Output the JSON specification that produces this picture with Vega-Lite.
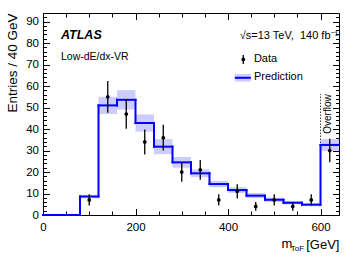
{
  "$schema": "https://vega.github.io/schema/vega-lite/v6.json",
  "width": 296,
  "height": 202,
  "autosize": "none",
  "padding": {"left": 43, "top": 13, "right": 18, "bottom": 47},
  "config": {
    "font": "Liberation Sans",
    "view": {"stroke": "black", "strokeWidth": 1},
    "axis": {"domain": false, "grid": false, "tickColor": "black", "labelColor": "black", "titleColor": "black", "labelFont": "Liberation Sans", "titleFont": "Liberation Sans", "titleFontWeight": "normal", "labelFontSize": 11.5, "titleFontSize": 13, "tickWidth": 1, "labelOverlap": false, "labelFlush": false},
    "text": {"font": "Liberation Sans", "color": "black"}
  },
  "datasets": {
    "pred": [
      {"lo": 0, "hi": 40, "pred": 0, "down": 0, "up": 0},
      {"lo": 40, "hi": 80, "pred": 0, "down": 0, "up": 0},
      {"lo": 80, "hi": 120, "pred": 8.6, "down": 7.8, "up": 9.4},
      {"lo": 120, "hi": 160, "pred": 51, "down": 47, "up": 55},
      {"lo": 160, "hi": 200, "pred": 53.6, "down": 49.1, "up": 58.1},
      {"lo": 200, "hi": 240, "pred": 42.8, "down": 38.8, "up": 46.8},
      {"lo": 240, "hi": 280, "pred": 31.8, "down": 28.3, "up": 35.3},
      {"lo": 280, "hi": 320, "pred": 24.5, "down": 22, "up": 27},
      {"lo": 320, "hi": 360, "pred": 19.4, "down": 17.6, "up": 21.2},
      {"lo": 360, "hi": 400, "pred": 14.4, "down": 12.9, "up": 15.9},
      {"lo": 400, "hi": 440, "pred": 11.6, "down": 10.3, "up": 12.9},
      {"lo": 440, "hi": 480, "pred": 9.0, "down": 7.8, "up": 10.2},
      {"lo": 480, "hi": 520, "pred": 7.1, "down": 6.1, "up": 8.1},
      {"lo": 520, "hi": 560, "pred": 5.7, "down": 4.9, "up": 6.5},
      {"lo": 560, "hi": 600, "pred": 4.8, "down": 4.1, "up": 5.5},
      {"lo": 600, "hi": 640, "pred": 32.6, "down": 29.9, "up": 35.3}
    ],
    "obs": [
      {"m": 100, "n": 7, "lo": 4.4, "hi": 9.6},
      {"m": 140, "n": 55, "lo": 47.6, "hi": 62.4},
      {"m": 180, "n": 47, "lo": 40.1, "hi": 53.9},
      {"m": 220, "n": 34, "lo": 28.2, "hi": 39.8},
      {"m": 260, "n": 36, "lo": 30, "hi": 42},
      {"m": 300, "n": 20, "lo": 15.5, "hi": 24.5},
      {"m": 340, "n": 21, "lo": 16.4, "hi": 25.6},
      {"m": 380, "n": 7, "lo": 4.4, "hi": 9.6},
      {"m": 420, "n": 11, "lo": 7.7, "hi": 14.3},
      {"m": 460, "n": 4, "lo": 2, "hi": 6},
      {"m": 500, "n": 7, "lo": 4.4, "hi": 9.6},
      {"m": 540, "n": 4, "lo": 2, "hi": 6},
      {"m": 580, "n": 7, "lo": 4.4, "hi": 9.6},
      {"m": 620, "n": 30, "lo": 24.5, "hi": 35.5}
    ]
  },
  "layer": [
    {
      "data": {"name": "pred"},
      "mark": {"type": "rect", "fill": "#ccccff", "strokeWidth": 0},
      "encoding": {
        "x": {"field": "lo", "type": "quantitative", "scale": {"domain": [0, 640], "nice": false, "zero": false},
          "axis": {"orient": "bottom", "values": [0, 50, 100, 150, 200, 250, 300, 350, 400, 450, 500, 550, 600],
            "tickSize": {"condition": {"test": "datum.value % 200 === 0", "value": -6.5}, "value": -4},
            "labelExpr": "datum.value % 200 === 0 ? datum.label : ''",
            "labelPadding": 12.5,
            "title": "[GeV]",
            "titleAnchor": "end", "titleAlign": "right", "titleX": 296, "titleY": 33, "titleBaseline": "alphabetic"}},
        "x2": {"field": "hi"},
        "y": {"field": "down", "type": "quantitative", "scale": {"domain": [0, 94], "nice": false},
          "axis": {"orient": "left", "values": [0, 2, 4, 6, 8, 10, 12, 14, 16, 18, 20, 22, 24, 26, 28, 30, 32, 34, 36, 38, 40, 42, 44, 46, 48, 50, 52, 54, 56, 58, 60, 62, 64, 66, 68, 70, 72, 74, 76, 78, 80, 82, 84, 86, 88, 90, 92],
            "tickSize": {"condition": {"test": "datum.value % 10 === 0", "value": -6.5}, "value": -3.5},
            "labelExpr": "datum.value % 10 === 0 ? datum.label : ''",
            "labelPadding": 11,
            "title": "Entries / 40 GeV",
            "titleFontSize": 13.5,
            "titleAngle": 270, "titleAlign": "right", "titleBaseline": "middle", "titleX": -31, "titleY": 0}},
        "y2": {"field": "up"}
      }
    },
    {
      "data": {"name": "pred"},
      "mark": {"type": "rule", "color": "#0000ff", "strokeWidth": 2, "strokeCap": "square"},
      "encoding": {
        "x": {"field": "lo", "type": "quantitative",
          "axis": {"orient": "top", "values": [0, 50, 100, 150, 200, 250, 300, 350, 400, 450, 500, 550, 600],
            "tickSize": {"condition": {"test": "datum.value % 200 === 0", "value": -6.5}, "value": -4},
            "labels": false, "title": null}},
        "x2": {"field": "hi"},
        "y": {"field": "pred", "type": "quantitative",
          "axis": {"orient": "right", "values": [0, 2, 4, 6, 8, 10, 12, 14, 16, 18, 20, 22, 24, 26, 28, 30, 32, 34, 36, 38, 40, 42, 44, 46, 48, 50, 52, 54, 56, 58, 60, 62, 64, 66, 68, 70, 72, 74, 76, 78, 80, 82, 84, 86, 88, 90, 92],
            "tickSize": {"condition": {"test": "datum.value % 10 === 0", "value": -6.5}, "value": -3.5},
            "labels": false, "title": null}}
      }
    },
    {
      "data": {"name": "pred"},
      "transform": [{"window": [{"op": "lag", "field": "pred", "as": "prev"}], "sort": [{"field": "lo"}]}],
      "mark": {"type": "rule", "color": "#0000ff", "strokeWidth": 2, "strokeCap": "square"},
      "encoding": {
        "x": {"field": "lo", "type": "quantitative", "axis": null},
        "y": {"field": "prev", "type": "quantitative", "axis": null},
        "y2": {"field": "pred"}
      }
    },
    {
      "data": {"values": [{"t": "overflow"}]},
      "mark": {"type": "rule", "color": "#444444", "strokeWidth": 1, "strokeDash": [1.5, 1.5]},
      "encoding": {
        "x": {"datum": 600, "type": "quantitative", "axis": null},
        "y": {"datum": 33.5, "type": "quantitative", "axis": null},
        "y2": {"datum": 56.3}
      }
    },
    {
      "data": {"name": "obs"},
      "mark": {"type": "rule", "color": "black", "strokeWidth": 1.3},
      "encoding": {
        "x": {"field": "m", "type": "quantitative", "axis": null},
        "y": {"field": "lo", "type": "quantitative", "axis": null},
        "y2": {"field": "hi"}
      }
    },
    {
      "data": {"name": "obs"},
      "mark": {"type": "circle", "color": "black", "size": 14, "opacity": 1},
      "encoding": {
        "x": {"field": "m", "type": "quantitative", "axis": null},
        "y": {"field": "n", "type": "quantitative", "axis": null}
      }
    },
    {
      "data": {"values": [{"t": "Overflow"}]},
      "mark": {"type": "text", "angle": 270, "align": "left", "baseline": "middle", "fontSize": 10},
      "encoding": {
        "x": {"datum": 616.5, "type": "quantitative", "axis": null},
        "y": {"datum": 37.8, "type": "quantitative", "axis": null},
        "text": {"field": "t"}
      }
    },
    {
      "data": {"values": [{"t": "ATLAS"}]},
      "mark": {"type": "text", "align": "left", "baseline": "alphabetic", "fontSize": 12.5, "fontWeight": "bold", "fontStyle": "italic"},
      "encoding": {
        "x": {"datum": 38.9, "type": "quantitative", "axis": null},
        "y": {"datum": 81.8, "type": "quantitative", "axis": null},
        "text": {"field": "t"}
      }
    },
    {
      "data": {"values": [{"t": "Low-dE/dx-VR"}]},
      "mark": {"type": "text", "align": "left", "baseline": "alphabetic", "fontSize": 10.5},
      "encoding": {
        "x": {"datum": 38.9, "type": "quantitative", "axis": null},
        "y": {"datum": 72.2, "type": "quantitative", "axis": null},
        "text": {"field": "t"}
      }
    },
    {
      "data": {"values": [{"t": "√s=13 TeV,\u00a0\u00a0140 fb⁻¹"}]},
      "mark": {"type": "text", "align": "left", "baseline": "alphabetic", "fontSize": 11},
      "encoding": {
        "x": {"datum": 425.5, "type": "quantitative", "axis": null},
        "y": {"datum": 81.8, "type": "quantitative", "axis": null},
        "text": {"field": "t"}
      }
    },
    {
      "data": {"values": [{"t": "Data"}]},
      "mark": {"type": "text", "align": "left", "baseline": "middle", "fontSize": 11},
      "encoding": {
        "x": {"datum": 456, "type": "quantitative", "axis": null},
        "y": {"datum": 72.4, "type": "quantitative", "axis": null},
        "text": {"field": "t"}
      }
    },
    {
      "data": {"values": [{"t": "Prediction"}]},
      "mark": {"type": "text", "align": "left", "baseline": "middle", "fontSize": 11},
      "encoding": {
        "x": {"datum": 456, "type": "quantitative", "axis": null},
        "y": {"datum": 64, "type": "quantitative", "axis": null},
        "text": {"field": "t"}
      }
    },
    {
      "data": {"values": [{"t": "Prediction"}]},
      "mark": {"type": "rect", "fill": "#ccccff"},
      "encoding": {
        "x": {"datum": 414.7, "type": "quantitative", "axis": null},
        "x2": {"datum": 449.3},
        "y": {"datum": 62.1, "type": "quantitative", "axis": null},
        "y2": {"datum": 65.6}
      }
    },
    {
      "data": {"values": [{"t": "Prediction"}]},
      "mark": {"type": "rule", "color": "#0000ff", "strokeWidth": 2},
      "encoding": {
        "x": {"datum": 414.7, "type": "quantitative", "axis": null},
        "x2": {"datum": 449.3},
        "y": {"datum": 63.85, "type": "quantitative", "axis": null}
      }
    },
    {
      "data": {"values": [{"t": "Data"}]},
      "mark": {"type": "rule", "color": "black", "strokeWidth": 1.3},
      "encoding": {
        "x": {"datum": 433, "type": "quantitative", "axis": null},
        "y": {"datum": 70.3, "type": "quantitative", "axis": null},
        "y2": {"datum": 74.5}
      }
    },
    {
      "data": {"values": [{"t": "Data"}]},
      "mark": {"type": "circle", "color": "black", "size": 14, "opacity": 1},
      "encoding": {
        "x": {"datum": 433, "type": "quantitative", "axis": null},
        "y": {"datum": 72.4, "type": "quantitative", "axis": null}
      }
    },
    {
      "data": {"values": [{"t": "m"}]},
      "mark": {"type": "text", "align": "left", "baseline": "alphabetic", "fontSize": 13},
      "encoding": {
        "x": {"datum": 515.5, "type": "quantitative", "axis": null},
        "y": {"datum": -15.4, "type": "quantitative", "axis": null},
        "text": {"field": "t"}
      }
    },
    {
      "data": {"values": [{"t": "ToF"}]},
      "mark": {"type": "text", "align": "center", "baseline": "alphabetic", "fontSize": 8},
      "encoding": {
        "x": {"datum": 550, "type": "quantitative", "axis": null},
        "y": {"datum": -16.6, "type": "quantitative", "axis": null},
        "text": {"field": "t"}
      }
    }
  ],
  "resolve": {"axis": {"x": "independent", "y": "independent"}}
}
